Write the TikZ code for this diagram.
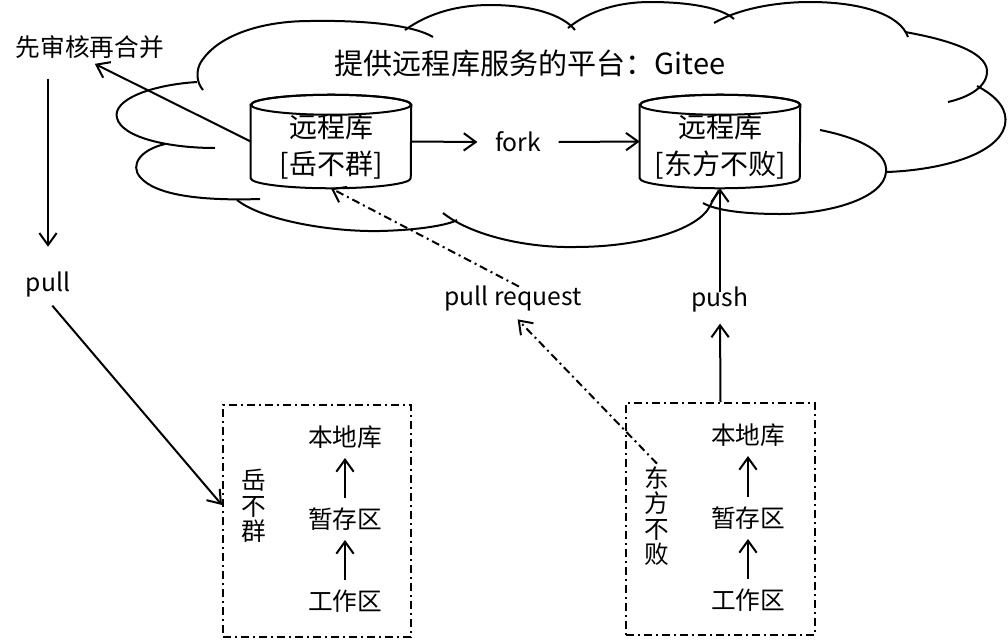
\documentclass[tikz,border=0pt]{standalone}
\usepackage{fontspec}
\setmainfont{Noto Sans CJK SC}
\usetikzlibrary{arrows.meta,calc}
\begin{document}
\begin{tikzpicture}[x=0.75pt,y=-0.75pt,
  ln/.style={line width=1.5pt},
  arr/.style={ln,-{Straight Barb[length=9pt,width=13pt]}},
  dd/.style={dash pattern=on 6pt off 3pt on 1.5pt off 3pt},
  txt/.style={font=\fontsize{18.5pt}{19pt}\selectfont, inner sep=2pt, align=center},
  ttlfont/.style={font=\fontsize{21.8pt}{24pt}\selectfont, inner sep=0pt},
  ctxt/.style={font=\fontsize{21pt}{27.75pt}\selectfont, inner sep=0pt, align=center},
  body/.style={minimum width=120pt, minimum height=54.75pt, inner sep=0pt},
  dbox/.style={draw, ln, dd, minimum height=174pt, inner sep=0pt}
]
\useasboundingbox (0,0) rectangle (1008,640);

% cloud
\draw[ln] (203,90) .. controls (196,82) and (196,70) .. (201,62) .. controls (218,35) and (262,21) .. (310,21) .. controls (370,20) and (415,26) .. (433,37);
\draw[ln] (405,30) .. controls (430,12) and (460,5) .. (490,5) .. controls (530,5) and (562,14) .. (575,30);
\draw[ln] (568,28) .. controls (590,10) and (620,2) .. (650,2) .. controls (690,2) and (722,8) .. (734,19);
\draw[ln] (714,23) .. controls (740,8) and (778,2) .. (810,2) .. controls (860,2) and (900,14) .. (908,37);
\draw[ln] (905,32) .. controls (950,40) and (985,52) .. (987,70) .. controls (988,86) and (970,97) .. (948,102);
\draw[ln] (977,86) .. controls (998,97) and (1008,110) .. (1005,125) .. controls (998,155) and (940,170) .. (887,172);
\draw[ln] (820,130) .. controls (860,138) and (888,152) .. (886,172) .. controls (884,198) and (830,214) .. (780,214) .. controls (742,214) and (715,210) .. (703,203);
\draw[ln] (443,213) .. controls (472,236) and (528,248) .. (575,247) .. controls (640,247) and (698,230) .. (710,206) .. controls (713,200) and (716,195) .. (719,190);
\draw[ln] (237,200) .. controls (262,220) and (330,232) .. (380,231) .. controls (420,230) and (448,225) .. (457,220);
\draw[ln] (165,144) .. controls (140,150) and (130,165) .. (140,177) .. controls (155,195) and (200,201) .. (260,199);
\draw[ln] (197,82) .. controls (150,85) and (112,100) .. (117,118) .. controls (122,138) and (170,148) .. (215,148);

\node[ttlfont] (ttl) at (530,63) {提供远程库服务的平台：Gitee};

% cylinders
\node[body] (lrepo) at (331,141.5) {};
\draw[ln, fill=white] (lrepo.north west) -- (lrepo.south west) arc[start angle=180,end angle=360,x radius=60pt,y radius=7.5pt] -- (lrepo.north east) arc[start angle=0,end angle=180,x radius=60pt,y radius=7.5pt] -- cycle;
\draw[ln] (lrepo.north) ellipse[x radius=60pt,y radius=7.5pt];
\node[ctxt] (lrepotxt) at (331,147) {远程库\\{}[岳不群]};
\coordinate (lbot) at ([yshift=-7.5pt]lrepo.south);

\node[body] (rrepo) at (720,141.5) {};
\draw[ln, fill=white] (rrepo.north west) -- (rrepo.south west) arc[start angle=180,end angle=360,x radius=60pt,y radius=7.5pt] -- (rrepo.north east) arc[start angle=0,end angle=180,x radius=60pt,y radius=7.5pt] -- cycle;
\draw[ln] (rrepo.north) ellipse[x radius=60pt,y radius=7.5pt];
\node[ctxt] (rrepotxt) at (720,147) {远程库\\{}[东方不败]};
\coordinate (rbot) at ([yshift=-7.5pt]rrepo.south);

\node[txt, inner xsep=13pt] (fork) at (518,142) {fork};
\draw[arr] (lrepo.east) -- (fork.west);
\draw[arr] (fork.east) -- (rrepo.west);

% left side
\node[txt] (review) at (90,47) {先审核再合并};
\node[txt] (pull) at (48,285) {pull};
\draw[arr, shorten >=4pt] (lrepo.west) -- (review.south);
\draw[arr, shorten <=13pt, shorten >=17pt] (review.south -| pull.north) -- (pull.north);

% boxes
\node[dbox, minimum width=141pt] (lbox) at (317,521) {};
\node[dbox, minimum width=141.75pt] (rbox) at (720.5,519) {};
\draw[arr, shorten <=5pt] (pull.south) -- ([yshift=12pt]lbox.west);

\node[txt] (lname) at (254,506) {岳\\不\\群};
\node[txt] (lloc) at (345,437) {本地库};
\node[txt] (lstage) at (345,519) {暂存区};
\node[txt] (lwork) at (345,601) {工作区};
\draw[arr, shorten <=5pt, shorten >=5pt] (lstage) -- (lloc);
\draw[arr, shorten <=5pt, shorten >=5pt] (lwork) -- (lstage);

\node[txt] (rname) at (657,516) {东\\方\\不\\败};
\node[txt] (rloc) at (748,435) {本地库};
\node[txt] (rstage) at (748,518) {暂存区};
\node[txt] (rwork) at (748,600) {工作区};
\draw[arr, shorten <=5pt, shorten >=5pt] (rstage) -- (rloc);
\draw[arr, shorten <=5pt, shorten >=5pt] (rwork) -- (rstage);

% push / pull request
\node[txt] (push) at (720,300) {push};
\draw[arr, shorten >=6pt] (rbox.north) -- (push.south);
\draw[arr, shorten <=-6pt] (push.north) -- (rbot);

\node[txt] (pr) at (513,299) {pull request};
\draw[arr, dd, shorten >=5pt] (rname.north) -- (pr.south);
\draw[arr, dd, shorten <=-5pt] (pr.north) -- (lbot);
\end{tikzpicture}
\end{document}
